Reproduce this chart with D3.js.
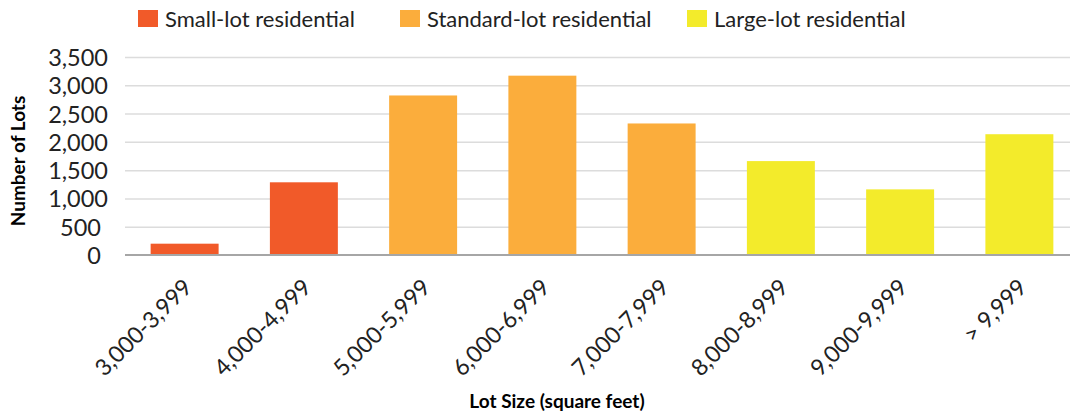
<!DOCTYPE html>
<html>
<head>
<meta charset="utf-8">
<script src="https://cdn.jsdelivr.net/npm/d3@7"></script>
<style>
  body { margin: 0; background: #fff; }
  svg { font-family: Lato, "Open Sans", sans-serif; }
</style>
</head>
<body>
<svg width="1070" height="417"></svg>
<script>
// **** Chart data ****
var lotSizes = ["3,000-3,999", "4,000-4,999", "5,000-5,999", "6,000-6,999",
                "7,000-7,999", "8,000-8,999", "9,000-9,999", "> 9,999"];
var lotCounts = [200, 1285, 2820, 3170, 2325, 1660, 1160, 2135];
var lotTypes = ["Small-lot residential", "Small-lot residential",
                "Standard-lot residential", "Standard-lot residential", "Standard-lot residential",
                "Large-lot residential", "Large-lot residential", "Large-lot residential"];
var typeNames = ["Small-lot residential", "Standard-lot residential", "Large-lot residential"];
var yTicks = [0, 500, 1000, 1500, 2000, 2500, 3000, 3500];

var svg = d3.select("svg");

var xScale = d3.scaleBand()
    .domain(lotSizes).range([125, 1079])
    .paddingInner(0.43).paddingOuter(0.215);

var yScale = d3.scaleLinear()
    .domain([0, 3500]).range([255, 57]);

var colorScale = d3.scaleOrdinal()
    .domain(typeNames).range(["#F15A29", "#FBAD3C", "#F3EB2B"]);

// **** gridlines ****
svg.append("g")
    .attr("class", "grid")
    .attr("transform", "translate(125,0)")
    .call(d3.axisLeft(yScale).tickValues(yTicks.slice(1)).tickSize(-960).tickFormat(""))
    .call(function(g) {
        g.select(".domain").remove();
        g.selectAll("line").attr("stroke", "#dcdcdc").attr("stroke-width", 1.5);
    });

// **** bars ****
svg.selectAll("rect.bar")
    .data(lotSizes)
    .enter()
    .append("rect")
    .attr("class", "bar")
    .attr("x", function(d) { return xScale(d); })
    .attr("width", xScale.bandwidth())
    .attr("y", function(d, i) { return yScale(lotCounts[i]); })
    .attr("height", function(d, i) { return yScale(0) - yScale(lotCounts[i]); })
    .style("fill", function(d, i) { return colorScale(lotTypes[i]); });

// **** y axis ****
svg.append("g")
    .attr("class", "y axis")
    .attr("transform", "translate(108,0)")
    .call(d3.axisLeft(yScale).tickValues(yTicks).tickSize(0).tickPadding(0).tickFormat(d3.format(",")))
    .call(function(g) {
        g.select(".domain").remove();
        g.selectAll("text")
            .attr("font-family", "Lato, sans-serif")
            .attr("font-size", "23.5px")
            .attr("fill", "#222")
            .attr("dy", "0.36em")
            .attr("dx", function(d) { return d < 1000 ? -7 : 0; });
    });

// **** x axis ****
svg.append("g")
    .attr("class", "x axis")
    .attr("transform", "translate(0,255)")
    .call(d3.axisBottom(xScale).tickSize(0).tickPadding(0))
    .call(function(g) {
        g.select(".domain").attr("d", "M125,0H1070").attr("stroke", "#a6a6a6").attr("stroke-width", 2);
        g.selectAll("text")
            .attr("font-family", "Lato, sans-serif")
            .attr("font-size", "23px")
            .attr("fill", "#222")
            .attr("text-anchor", "end")
            .attr("transform", "translate(3,28) rotate(-45)")
            .attr("dy", "0.35em")
            .attr("y", 0);
    });

svg.append("text")
    .attr("transform", "translate(557,408)")
    .attr("text-anchor", "middle")
    .style("font-family", "Lato, sans-serif")
    .style("font-size", "19px")
    .style("font-weight", "bold")
    .text("Lot Size (square feet)");

svg.append("text")
    .attr("transform", "translate(25,161) rotate(-90)")
    .attr("text-anchor", "middle")
    .style("font-family", "Lato, sans-serif")
    .style("font-size", "19px")
    .style("font-weight", "bold")
    .text("Number of Lots");

// **** legend ****
var legendX = [138, 400, 687];
var legend = svg.selectAll("g.legend")
    .data(typeNames)
    .enter()
    .append("g")
    .attr("class", "legend")
    .attr("transform", function(d, i) { return "translate(" + legendX[i] + ",10)"; });

legend.append("rect")
    .attr("width", 20)
    .attr("height", 17)
    .style("fill", function(d) { return colorScale(d); });

legend.append("text")
    .attr("x", 27)
    .attr("y", 9)
    .attr("dy", "0.35em")
    .style("font-family", "Lato, sans-serif")
    .style("font-size", "22px")
    .style("fill", "#222")
    .text(function(d) { return d; });
</script>
</body>
</html>
